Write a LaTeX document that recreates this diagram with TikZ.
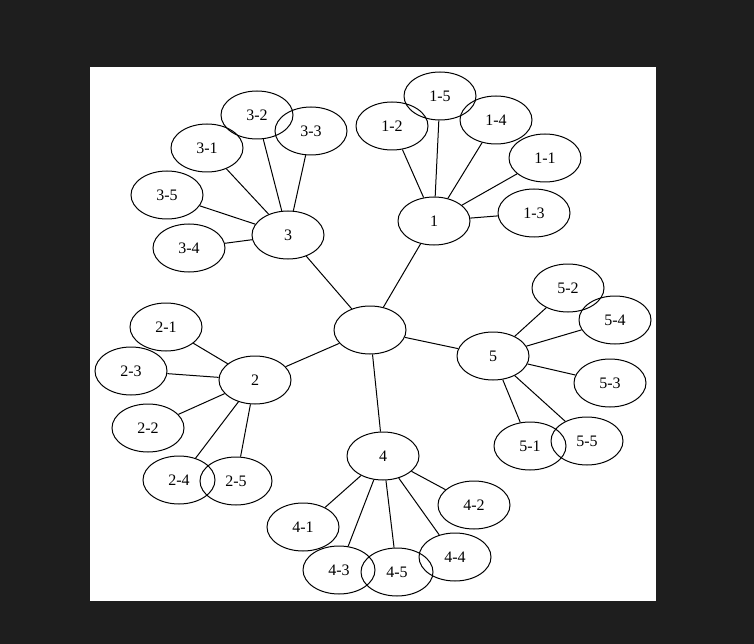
\documentclass[tikz,border=0pt]{standalone}
\usepackage{fontspec}
\setmainfont{Liberation Serif}
\usetikzlibrary{shapes.geometric}
\definecolor{bgdark}{HTML}{1E1E1E}
\tikzset{
  nd/.style={ellipse, draw=black, line width=1pt, minimum width=72pt, minimum height=48pt, inner sep=0pt, font=\fontsize{16}{18}\selectfont},
  ed/.style={draw=black, line width=1pt}
}
\begin{document}
\begin{tikzpicture}[x=1pt,y=-1pt]
\fill[bgdark] (0,0) rectangle (754,644);
\useasboundingbox (0,0) rectangle (754,644);
\fill[white] (90,67) rectangle (656,601);
\node[nd] (c) at (370,330) {};
\node[nd] (n1) at (434,221) {1};
\node[nd] (n11) at (545,158) {1-1};
\node[nd] (n12) at (392,126) {1-2};
\node[nd] (n13) at (534,213) {1-3};
\node[nd] (n14) at (496,120) {1-4};
\node[nd] (n15) at (440,96) {1-5};
\node[nd] (n2) at (255,380) {2};
\node[nd] (n21) at (166,327) {2-1};
\node[nd] (n22) at (148,428) {2-2};
\node[nd] (n23) at (131,371) {2-3};
\node[nd] (n24) at (179,480) {2-4};
\node[nd] (n25) at (236,481) {2-5};
\node[nd] (n3) at (288,235) {3};
\node[nd] (n31) at (207,148) {3-1};
\node[nd] (n32) at (257,115) {3-2};
\node[nd] (n33) at (311,131) {3-3};
\node[nd] (n34) at (189,248) {3-4};
\node[nd] (n35) at (167,195) {3-5};
\node[nd] (n4) at (383,456) {4};
\node[nd] (n41) at (303,527) {4-1};
\node[nd] (n42) at (474,505) {4-2};
\node[nd] (n43) at (339,570) {4-3};
\node[nd] (n44) at (455,557) {4-4};
\node[nd] (n45) at (397,572) {4-5};
\node[nd] (n5) at (493,356) {5};
\node[nd] (n51) at (530,446) {5-1};
\node[nd] (n52) at (568,288) {5-2};
\node[nd] (n53) at (610,383) {5-3};
\node[nd] (n54) at (615,320) {5-4};
\node[nd] (n55) at (587,441) {5-5};
\foreach \p in {n1,n2,n3,n4,n5} \draw[ed] (c) -- (\p);
\foreach \i in {1,2,3,4,5}{
  \foreach \j in {1,2,3,4,5}{
    \draw[ed] (n\i) -- (n\i\j);
  }
}
\end{tikzpicture}
\end{document}
